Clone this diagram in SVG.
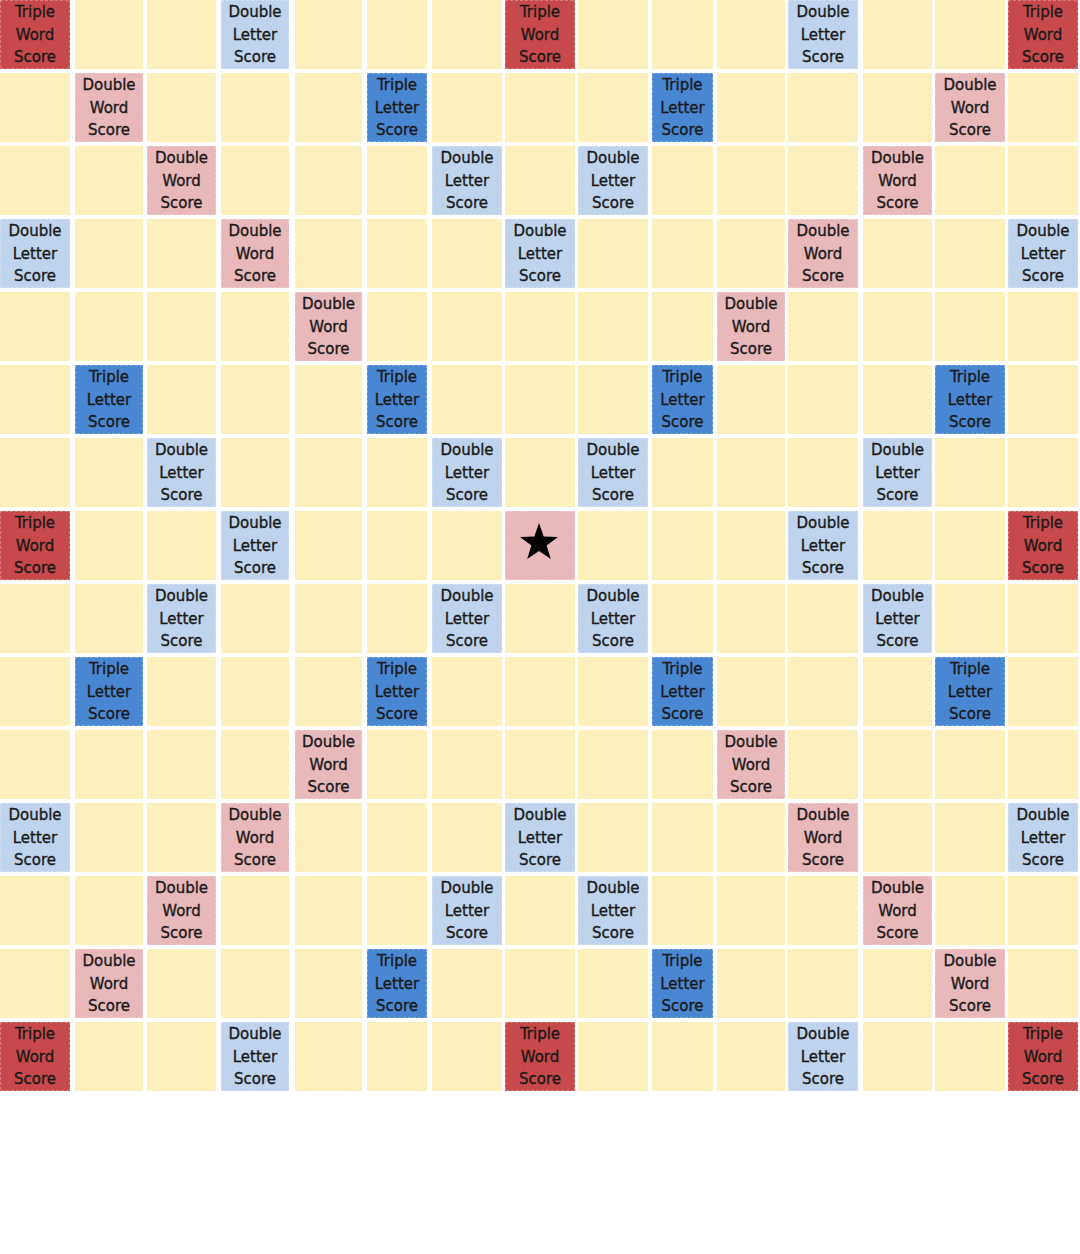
<svg xmlns="http://www.w3.org/2000/svg" width="1080" height="1254" viewBox="0 0 1080 1254">
<style>
.cream{fill:#FCF0BC}
.gap{fill:#FFFFFF}
.tws rect{fill:#C8494B}
.dws rect{fill:#E9B8BB}
.tls rect{fill:#4A87D3}
.dls rect{fill:#BFD4EC}
.star rect{fill:#E9B8BB}
rect.c{stroke:#FFFFFF;stroke-opacity:0.55;stroke-width:1;stroke-dasharray:3 2}
text{font-family:"DejaVu Sans","Liberation Sans",sans-serif;font-size:15px;fill:#1A1A1A;stroke:#1A1A1A;stroke-width:0.35;text-anchor:middle}
</style>
<rect width="1080" height="1254" fill="#FFFFFF"/>
<g id="board">
<rect class="cream" x="0" y="0" width="70" height="1091"/>
<rect class="cream" x="75" y="0" width="68" height="1091"/>
<rect class="cream" x="147" y="0" width="69" height="1091"/>
<rect class="cream" x="221" y="0" width="68" height="1091"/>
<rect class="cream" x="295" y="0" width="67" height="1091"/>
<rect class="cream" x="367" y="0" width="60" height="1091"/>
<rect class="cream" x="432" y="0" width="70" height="1091"/>
<rect class="cream" x="505" y="0" width="70" height="1091"/>
<rect class="cream" x="578" y="0" width="70" height="1091"/>
<rect class="cream" x="652" y="0" width="61" height="1091"/>
<rect class="cream" x="717" y="0" width="68" height="1091"/>
<rect class="cream" x="788" y="0" width="70" height="1091"/>
<rect class="cream" x="863" y="0" width="69" height="1091"/>
<rect class="cream" x="935" y="0" width="70" height="1091"/>
<rect class="cream" x="1008" y="0" width="70" height="1091"/>
<rect class="gap" x="0" y="69" width="1080" height="4"/>
<rect class="gap" x="0" y="142" width="1080" height="4"/>
<rect class="gap" x="0" y="215" width="1080" height="4"/>
<rect class="gap" x="0" y="288" width="1080" height="4"/>
<rect class="gap" x="0" y="361" width="1080" height="4"/>
<rect class="gap" x="0" y="434" width="1080" height="4"/>
<rect class="gap" x="0" y="507" width="1080" height="4"/>
<rect class="gap" x="0" y="580" width="1080" height="4"/>
<rect class="gap" x="0" y="653" width="1080" height="4"/>
<rect class="gap" x="0" y="726" width="1080" height="4"/>
<rect class="gap" x="0" y="799" width="1080" height="4"/>
<rect class="gap" x="0" y="872" width="1080" height="4"/>
<rect class="gap" x="0" y="945" width="1080" height="4"/>
<rect class="gap" x="0" y="1018" width="1080" height="4"/>
</g>
<g id="connectors"/>
<!-- row 0 -->
<g id="r0c0" class="tws"><rect class="c" x="0" y="0" width="70" height="69"/><text><tspan x="35" y="17">Triple</tspan><tspan x="35" y="39.5">Word</tspan><tspan x="35" y="62">Score</tspan></text></g>
<g id="r0c3" class="dls"><rect class="c" x="221" y="0" width="68" height="69"/><text><tspan x="255" y="17">Double</tspan><tspan x="255" y="39.5">Letter</tspan><tspan x="255" y="62">Score</tspan></text></g>
<g id="r0c7" class="tws"><rect class="c" x="505" y="0" width="70" height="69"/><text><tspan x="540" y="17">Triple</tspan><tspan x="540" y="39.5">Word</tspan><tspan x="540" y="62">Score</tspan></text></g>
<g id="r0c11" class="dls"><rect class="c" x="788" y="0" width="70" height="69"/><text><tspan x="823" y="17">Double</tspan><tspan x="823" y="39.5">Letter</tspan><tspan x="823" y="62">Score</tspan></text></g>
<g id="r0c14" class="tws"><rect class="c" x="1008" y="0" width="70" height="69"/><text><tspan x="1043" y="17">Triple</tspan><tspan x="1043" y="39.5">Word</tspan><tspan x="1043" y="62">Score</tspan></text></g>
<!-- row 1 -->
<g id="r1c1" class="dws"><rect class="c" x="75" y="73" width="68" height="69"/><text><tspan x="109" y="90">Double</tspan><tspan x="109" y="112.5">Word</tspan><tspan x="109" y="135">Score</tspan></text></g>
<g id="r1c5" class="tls"><rect class="c" x="367" y="73" width="60" height="69"/><text><tspan x="397" y="90">Triple</tspan><tspan x="397" y="112.5">Letter</tspan><tspan x="397" y="135">Score</tspan></text></g>
<g id="r1c9" class="tls"><rect class="c" x="652" y="73" width="61" height="69"/><text><tspan x="682.5" y="90">Triple</tspan><tspan x="682.5" y="112.5">Letter</tspan><tspan x="682.5" y="135">Score</tspan></text></g>
<g id="r1c13" class="dws"><rect class="c" x="935" y="73" width="70" height="69"/><text><tspan x="970" y="90">Double</tspan><tspan x="970" y="112.5">Word</tspan><tspan x="970" y="135">Score</tspan></text></g>
<!-- row 2 -->
<g id="r2c2" class="dws"><rect class="c" x="147" y="146" width="69" height="69"/><text><tspan x="181.5" y="163">Double</tspan><tspan x="181.5" y="185.5">Word</tspan><tspan x="181.5" y="208">Score</tspan></text></g>
<g id="r2c6" class="dls"><rect class="c" x="432" y="146" width="70" height="69"/><text><tspan x="467" y="163">Double</tspan><tspan x="467" y="185.5">Letter</tspan><tspan x="467" y="208">Score</tspan></text></g>
<g id="r2c8" class="dls"><rect class="c" x="578" y="146" width="70" height="69"/><text><tspan x="613" y="163">Double</tspan><tspan x="613" y="185.5">Letter</tspan><tspan x="613" y="208">Score</tspan></text></g>
<g id="r2c12" class="dws"><rect class="c" x="863" y="146" width="69" height="69"/><text><tspan x="897.5" y="163">Double</tspan><tspan x="897.5" y="185.5">Word</tspan><tspan x="897.5" y="208">Score</tspan></text></g>
<!-- row 3 -->
<g id="r3c0" class="dls"><rect class="c" x="0" y="219" width="70" height="69"/><text><tspan x="35" y="236">Double</tspan><tspan x="35" y="258.5">Letter</tspan><tspan x="35" y="281">Score</tspan></text></g>
<g id="r3c3" class="dws"><rect class="c" x="221" y="219" width="68" height="69"/><text><tspan x="255" y="236">Double</tspan><tspan x="255" y="258.5">Word</tspan><tspan x="255" y="281">Score</tspan></text></g>
<g id="r3c7" class="dls"><rect class="c" x="505" y="219" width="70" height="69"/><text><tspan x="540" y="236">Double</tspan><tspan x="540" y="258.5">Letter</tspan><tspan x="540" y="281">Score</tspan></text></g>
<g id="r3c11" class="dws"><rect class="c" x="788" y="219" width="70" height="69"/><text><tspan x="823" y="236">Double</tspan><tspan x="823" y="258.5">Word</tspan><tspan x="823" y="281">Score</tspan></text></g>
<g id="r3c14" class="dls"><rect class="c" x="1008" y="219" width="70" height="69"/><text><tspan x="1043" y="236">Double</tspan><tspan x="1043" y="258.5">Letter</tspan><tspan x="1043" y="281">Score</tspan></text></g>
<!-- row 4 -->
<g id="r4c4" class="dws"><rect class="c" x="295" y="292" width="67" height="69"/><text><tspan x="328.5" y="309">Double</tspan><tspan x="328.5" y="331.5">Word</tspan><tspan x="328.5" y="354">Score</tspan></text></g>
<g id="r4c10" class="dws"><rect class="c" x="717" y="292" width="68" height="69"/><text><tspan x="751" y="309">Double</tspan><tspan x="751" y="331.5">Word</tspan><tspan x="751" y="354">Score</tspan></text></g>
<!-- row 5 -->
<g id="r5c1" class="tls"><rect class="c" x="75" y="365" width="68" height="69"/><text><tspan x="109" y="382">Triple</tspan><tspan x="109" y="404.5">Letter</tspan><tspan x="109" y="427">Score</tspan></text></g>
<g id="r5c5" class="tls"><rect class="c" x="367" y="365" width="60" height="69"/><text><tspan x="397" y="382">Triple</tspan><tspan x="397" y="404.5">Letter</tspan><tspan x="397" y="427">Score</tspan></text></g>
<g id="r5c9" class="tls"><rect class="c" x="652" y="365" width="61" height="69"/><text><tspan x="682.5" y="382">Triple</tspan><tspan x="682.5" y="404.5">Letter</tspan><tspan x="682.5" y="427">Score</tspan></text></g>
<g id="r5c13" class="tls"><rect class="c" x="935" y="365" width="70" height="69"/><text><tspan x="970" y="382">Triple</tspan><tspan x="970" y="404.5">Letter</tspan><tspan x="970" y="427">Score</tspan></text></g>
<!-- row 6 -->
<g id="r6c2" class="dls"><rect class="c" x="147" y="438" width="69" height="69"/><text><tspan x="181.5" y="455">Double</tspan><tspan x="181.5" y="477.5">Letter</tspan><tspan x="181.5" y="500">Score</tspan></text></g>
<g id="r6c6" class="dls"><rect class="c" x="432" y="438" width="70" height="69"/><text><tspan x="467" y="455">Double</tspan><tspan x="467" y="477.5">Letter</tspan><tspan x="467" y="500">Score</tspan></text></g>
<g id="r6c8" class="dls"><rect class="c" x="578" y="438" width="70" height="69"/><text><tspan x="613" y="455">Double</tspan><tspan x="613" y="477.5">Letter</tspan><tspan x="613" y="500">Score</tspan></text></g>
<g id="r6c12" class="dls"><rect class="c" x="863" y="438" width="69" height="69"/><text><tspan x="897.5" y="455">Double</tspan><tspan x="897.5" y="477.5">Letter</tspan><tspan x="897.5" y="500">Score</tspan></text></g>
<!-- row 7 -->
<g id="r7c0" class="tws"><rect class="c" x="0" y="511" width="70" height="69"/><text><tspan x="35" y="528">Triple</tspan><tspan x="35" y="550.5">Word</tspan><tspan x="35" y="573">Score</tspan></text></g>
<g id="r7c3" class="dls"><rect class="c" x="221" y="511" width="68" height="69"/><text><tspan x="255" y="528">Double</tspan><tspan x="255" y="550.5">Letter</tspan><tspan x="255" y="573">Score</tspan></text></g>
<g id="r7c7" class="star"><rect class="c" x="505" y="511" width="70" height="69"/><polygon fill="#000000" points="539,523 543.7,536.5 558,537 546.6,545.5 550.8,559 539,551 527.2,559 531.4,545.5 520,537 534.3,536.5"/></g>
<g id="r7c11" class="dls"><rect class="c" x="788" y="511" width="70" height="69"/><text><tspan x="823" y="528">Double</tspan><tspan x="823" y="550.5">Letter</tspan><tspan x="823" y="573">Score</tspan></text></g>
<g id="r7c14" class="tws"><rect class="c" x="1008" y="511" width="70" height="69"/><text><tspan x="1043" y="528">Triple</tspan><tspan x="1043" y="550.5">Word</tspan><tspan x="1043" y="573">Score</tspan></text></g>
<!-- row 8 -->
<g id="r8c2" class="dls"><rect class="c" x="147" y="584" width="69" height="69"/><text><tspan x="181.5" y="601">Double</tspan><tspan x="181.5" y="623.5">Letter</tspan><tspan x="181.5" y="646">Score</tspan></text></g>
<g id="r8c6" class="dls"><rect class="c" x="432" y="584" width="70" height="69"/><text><tspan x="467" y="601">Double</tspan><tspan x="467" y="623.5">Letter</tspan><tspan x="467" y="646">Score</tspan></text></g>
<g id="r8c8" class="dls"><rect class="c" x="578" y="584" width="70" height="69"/><text><tspan x="613" y="601">Double</tspan><tspan x="613" y="623.5">Letter</tspan><tspan x="613" y="646">Score</tspan></text></g>
<g id="r8c12" class="dls"><rect class="c" x="863" y="584" width="69" height="69"/><text><tspan x="897.5" y="601">Double</tspan><tspan x="897.5" y="623.5">Letter</tspan><tspan x="897.5" y="646">Score</tspan></text></g>
<!-- row 9 -->
<g id="r9c1" class="tls"><rect class="c" x="75" y="657" width="68" height="69"/><text><tspan x="109" y="674">Triple</tspan><tspan x="109" y="696.5">Letter</tspan><tspan x="109" y="719">Score</tspan></text></g>
<g id="r9c5" class="tls"><rect class="c" x="367" y="657" width="60" height="69"/><text><tspan x="397" y="674">Triple</tspan><tspan x="397" y="696.5">Letter</tspan><tspan x="397" y="719">Score</tspan></text></g>
<g id="r9c9" class="tls"><rect class="c" x="652" y="657" width="61" height="69"/><text><tspan x="682.5" y="674">Triple</tspan><tspan x="682.5" y="696.5">Letter</tspan><tspan x="682.5" y="719">Score</tspan></text></g>
<g id="r9c13" class="tls"><rect class="c" x="935" y="657" width="70" height="69"/><text><tspan x="970" y="674">Triple</tspan><tspan x="970" y="696.5">Letter</tspan><tspan x="970" y="719">Score</tspan></text></g>
<!-- row 10 -->
<g id="r10c4" class="dws"><rect class="c" x="295" y="730" width="67" height="69"/><text><tspan x="328.5" y="747">Double</tspan><tspan x="328.5" y="769.5">Word</tspan><tspan x="328.5" y="792">Score</tspan></text></g>
<g id="r10c10" class="dws"><rect class="c" x="717" y="730" width="68" height="69"/><text><tspan x="751" y="747">Double</tspan><tspan x="751" y="769.5">Word</tspan><tspan x="751" y="792">Score</tspan></text></g>
<!-- row 11 -->
<g id="r11c0" class="dls"><rect class="c" x="0" y="803" width="70" height="69"/><text><tspan x="35" y="820">Double</tspan><tspan x="35" y="842.5">Letter</tspan><tspan x="35" y="865">Score</tspan></text></g>
<g id="r11c3" class="dws"><rect class="c" x="221" y="803" width="68" height="69"/><text><tspan x="255" y="820">Double</tspan><tspan x="255" y="842.5">Word</tspan><tspan x="255" y="865">Score</tspan></text></g>
<g id="r11c7" class="dls"><rect class="c" x="505" y="803" width="70" height="69"/><text><tspan x="540" y="820">Double</tspan><tspan x="540" y="842.5">Letter</tspan><tspan x="540" y="865">Score</tspan></text></g>
<g id="r11c11" class="dws"><rect class="c" x="788" y="803" width="70" height="69"/><text><tspan x="823" y="820">Double</tspan><tspan x="823" y="842.5">Word</tspan><tspan x="823" y="865">Score</tspan></text></g>
<g id="r11c14" class="dls"><rect class="c" x="1008" y="803" width="70" height="69"/><text><tspan x="1043" y="820">Double</tspan><tspan x="1043" y="842.5">Letter</tspan><tspan x="1043" y="865">Score</tspan></text></g>
<!-- row 12 -->
<g id="r12c2" class="dws"><rect class="c" x="147" y="876" width="69" height="69"/><text><tspan x="181.5" y="893">Double</tspan><tspan x="181.5" y="915.5">Word</tspan><tspan x="181.5" y="938">Score</tspan></text></g>
<g id="r12c6" class="dls"><rect class="c" x="432" y="876" width="70" height="69"/><text><tspan x="467" y="893">Double</tspan><tspan x="467" y="915.5">Letter</tspan><tspan x="467" y="938">Score</tspan></text></g>
<g id="r12c8" class="dls"><rect class="c" x="578" y="876" width="70" height="69"/><text><tspan x="613" y="893">Double</tspan><tspan x="613" y="915.5">Letter</tspan><tspan x="613" y="938">Score</tspan></text></g>
<g id="r12c12" class="dws"><rect class="c" x="863" y="876" width="69" height="69"/><text><tspan x="897.5" y="893">Double</tspan><tspan x="897.5" y="915.5">Word</tspan><tspan x="897.5" y="938">Score</tspan></text></g>
<!-- row 13 -->
<g id="r13c1" class="dws"><rect class="c" x="75" y="949" width="68" height="69"/><text><tspan x="109" y="966">Double</tspan><tspan x="109" y="988.5">Word</tspan><tspan x="109" y="1011">Score</tspan></text></g>
<g id="r13c5" class="tls"><rect class="c" x="367" y="949" width="60" height="69"/><text><tspan x="397" y="966">Triple</tspan><tspan x="397" y="988.5">Letter</tspan><tspan x="397" y="1011">Score</tspan></text></g>
<g id="r13c9" class="tls"><rect class="c" x="652" y="949" width="61" height="69"/><text><tspan x="682.5" y="966">Triple</tspan><tspan x="682.5" y="988.5">Letter</tspan><tspan x="682.5" y="1011">Score</tspan></text></g>
<g id="r13c13" class="dws"><rect class="c" x="935" y="949" width="70" height="69"/><text><tspan x="970" y="966">Double</tspan><tspan x="970" y="988.5">Word</tspan><tspan x="970" y="1011">Score</tspan></text></g>
<!-- row 14 -->
<g id="r14c0" class="tws"><rect class="c" x="0" y="1022" width="70" height="69"/><text><tspan x="35" y="1039">Triple</tspan><tspan x="35" y="1061.5">Word</tspan><tspan x="35" y="1084">Score</tspan></text></g>
<g id="r14c3" class="dls"><rect class="c" x="221" y="1022" width="68" height="69"/><text><tspan x="255" y="1039">Double</tspan><tspan x="255" y="1061.5">Letter</tspan><tspan x="255" y="1084">Score</tspan></text></g>
<g id="r14c7" class="tws"><rect class="c" x="505" y="1022" width="70" height="69"/><text><tspan x="540" y="1039">Triple</tspan><tspan x="540" y="1061.5">Word</tspan><tspan x="540" y="1084">Score</tspan></text></g>
<g id="r14c11" class="dls"><rect class="c" x="788" y="1022" width="70" height="69"/><text><tspan x="823" y="1039">Double</tspan><tspan x="823" y="1061.5">Letter</tspan><tspan x="823" y="1084">Score</tspan></text></g>
<g id="r14c14" class="tws"><rect class="c" x="1008" y="1022" width="70" height="69"/><text><tspan x="1043" y="1039">Triple</tspan><tspan x="1043" y="1061.5">Word</tspan><tspan x="1043" y="1084">Score</tspan></text></g>
</svg>
